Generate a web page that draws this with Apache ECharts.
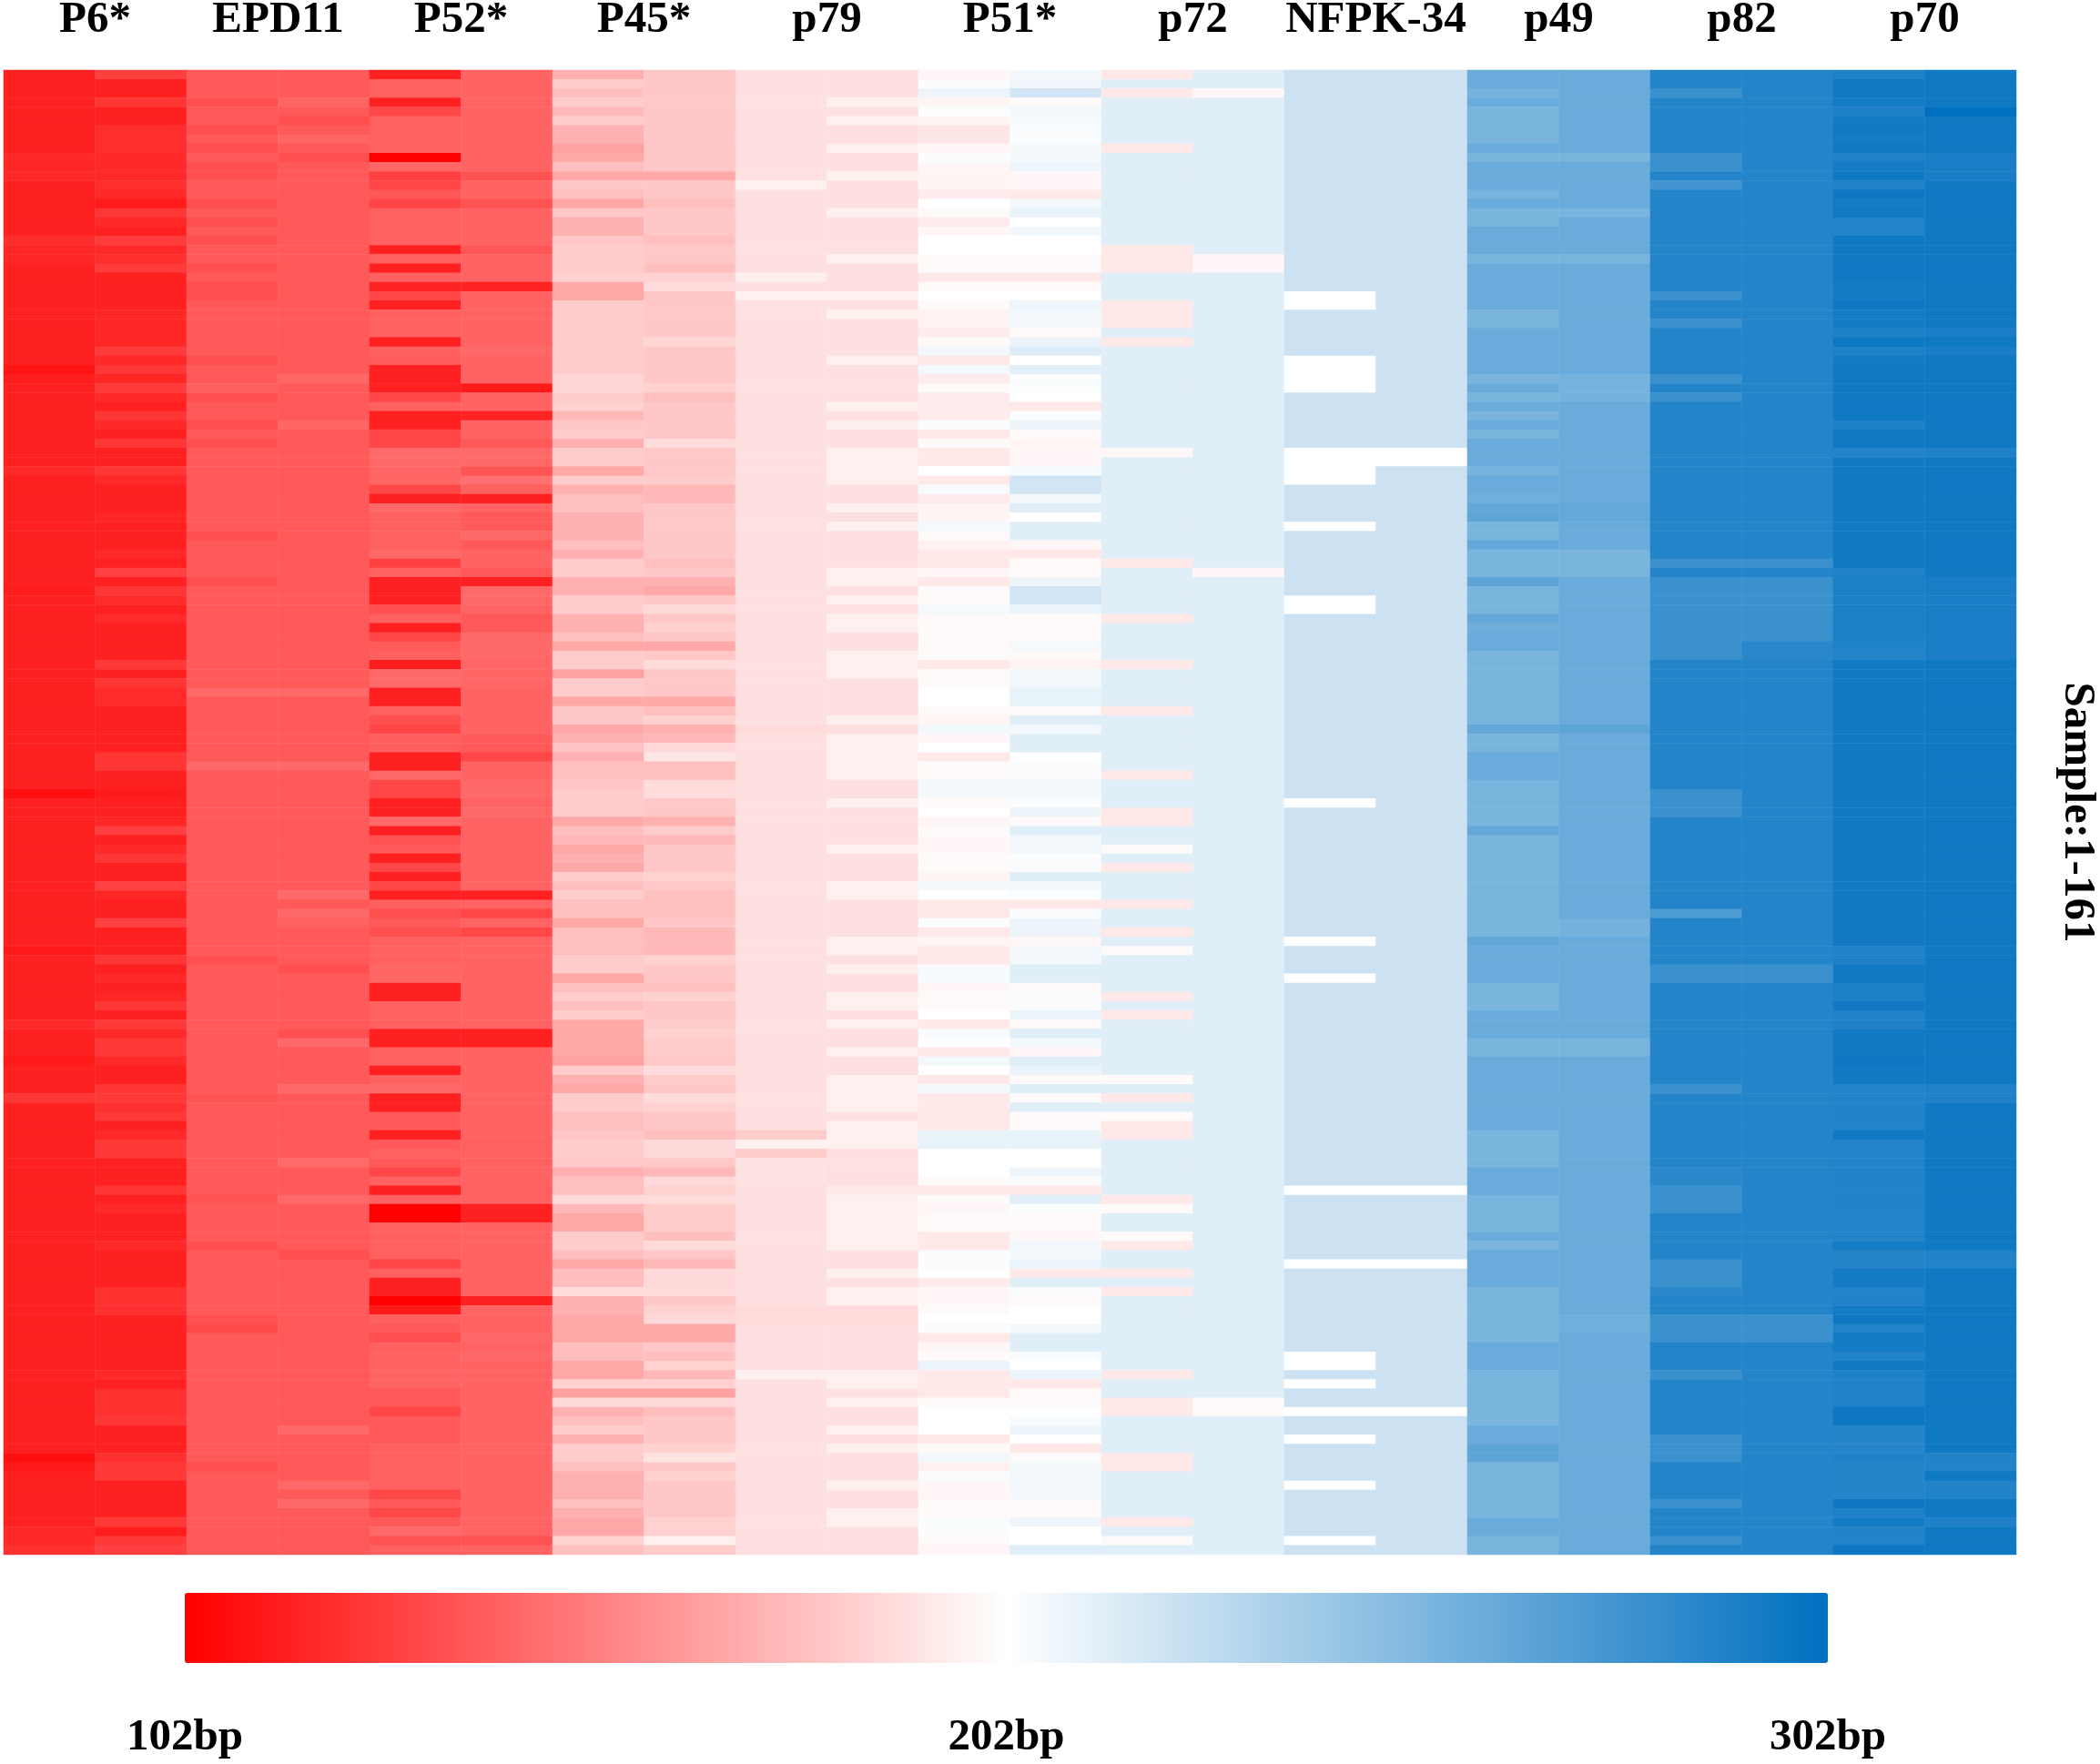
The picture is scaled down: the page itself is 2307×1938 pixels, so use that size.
<!DOCTYPE html>
<html>
<head>
<meta charset="utf-8">
<script src="https://cdn.jsdelivr.net/npm/echarts@6/dist/echarts.min.js"></script>
<style>
  html, body { margin: 0; padding: 0; background: #fff; }
  #main { width: 2307px; height: 1938px; }
</style>
</head>
<body>
<div id="main"></div>
<script>
// marker names, each marker has two alleles (two columns)
var markers = ['P6*', 'EPD11', 'P52*', 'P45*', 'p79', 'P51*', 'p72', 'NFPK-34', 'p49', 'p82', 'p70'];
var scaleLabels = ['102bp', '202bp', '302bp'];

// fragment sizes (bp) per sample 1-161
var p6a = [
 115,115,115,115,115,115,115,115,115,118,117,118,115,115,115,115,115,115,120,117,
 117,115,115,115,115,115,115,115,115,115,115,115,110,113,115,115,115,115,115,115,
 115,115,115,118,115,115,115,115,115,115,115,115,115,115,115,115,113,115,115,115,
 115,115,115,115,115,115,115,115,115,115,115,115,115,115,115,115,115,115,108,115,
 115,115,115,115,115,115,115,115,115,115,115,115,115,115,115,112,115,115,115,115,
 115,115,115,118,115,115,115,112,115,115,115,123,115,115,115,115,115,115,115,115,
 115,115,115,115,115,115,115,115,115,115,115,115,115,115,115,115,115,115,115,115,
 115,115,115,115,115,115,115,115,115,115,108,112,115,115,115,115,115,115,118,118,
 121];
var p6b = [
 127,115,115,123,115,115,120,120,120,118,118,118,120,118,112,123,118,115,125,118,
 120,125,115,115,115,115,117,117,117,117,125,118,123,117,125,118,115,123,118,115,
 123,115,115,123,118,115,115,115,117,115,115,115,118,115,127,115,123,119,115,119,
 115,115,115,115,124,115,123,119,119,115,115,115,115,115,123,123,115,115,113,115,
 115,117,127,115,118,123,115,115,127,117,115,115,127,115,115,115,123,115,118,115,
 117,123,115,124,118,124,124,118,115,115,123,124,121,124,115,118,124,124,115,115,
 115,123,115,118,115,115,115,118,115,115,115,115,121,121,121,115,115,115,115,115,
 115,118,115,121,121,121,123,115,115,115,121,124,124,115,115,115,115,124,113,124,
 127];
var epd11a = [
 137,137,137,133,137,137,133,137,133,137,133,133,137,137,133,137,133,137,133,137,
 137,133,137,133,133,137,137,137,137,137,137,133,137,137,140,133,137,137,133,137,
 133,137,137,137,137,137,137,137,137,137,133,137,137,137,137,133,137,137,137,137,
 137,137,137,137,137,137,137,143,137,137,137,137,137,137,137,143,137,137,137,137,
 137,137,137,137,137,137,137,137,137,137,137,137,137,137,137,137,133,137,137,137,
 137,137,137,137,137,137,137,137,137,137,137,134,137,137,137,137,137,137,137,137,
 137,137,135,137,137,137,137,133,137,137,137,137,137,137,137,133,131,137,137,137,
 137,137,137,137,137,137,137,137,137,137,137,133,137,137,137,137,137,137,137,137,
 137];
var epd11b = [
 137,137,137,141,137,133,137,142,137,133,137,137,137,137,137,137,137,137,137,137,
 137,137,137,137,137,137,137,137,137,137,137,137,137,142,137,137,137,137,142,137,
 137,137,137,137,137,137,137,137,137,137,137,137,137,137,137,137,137,137,137,137,
 137,137,137,137,137,137,137,143,137,137,137,137,137,137,137,143,137,137,137,137,
 137,137,137,137,137,137,137,137,137,143,137,143,140,137,137,137,137,133,137,137,
 137,137,137,137,133,143,137,137,137,137,143,137,137,137,137,137,137,137,143,137,
 137,137,143,137,137,137,137,137,133,137,137,137,137,137,137,137,137,137,137,137,
 137,137,137,137,137,137,137,143,137,137,137,137,137,143,137,143,137,137,137,137,
 137];
var p52a = [
 115,140,140,115,130,140,140,140,140,102,142,127,130,136,129,140,140,140,140,115,
 140,115,140,116,130,115,140,140,140,115,140,138,115,115,115,130,140,115,115,130,
 130,143,143,142,142,130,115,143,140,140,140,140,143,127,140,115,115,115,133,140,
 115,130,137,140,113,143,143,115,115,140,133,130,139,139,115,115,143,130,130,115,
 115,143,115,134,137,115,130,115,130,115,140,133,137,133,140,140,140,142,142,115,
 115,140,140,140,115,115,140,140,115,140,143,115,115,137,137,115,137,140,137,130,
 140,115,140,102,102,140,140,140,140,130,140,115,115,102,112,140,137,133,140,141,
 141,141,141,137,137,130,137,137,137,140,140,140,140,140,130,137,130,137,143,134,
 140];
var p52b = [
 141,141,141,141,141,141,141,141,141,141,141,134,141,141,134,141,141,141,141,136,
 141,141,141,116,141,141,141,141,141,141,143,141,141,141,112,141,141,116,141,141,
 137,143,143,135,146,140,115,141,137,137,143,137,141,141,137,115,143,143,141,137,
 137,143,143,143,142,142,142,141,141,141,141,141,137,137,130,141,141,143,143,141,
 143,141,141,141,141,141,141,141,141,115,141,130,141,130,141,141,141,141,141,141,
 141,141,141,141,115,115,141,141,141,141,141,141,141,141,141,141,140,140,140,141,
 141,140,141,115,115,141,141,141,141,141,141,141,141,115,141,141,141,143,141,143,
 141,141,141,141,141,141,141,141,141,141,141,141,141,141,141,141,141,141,141,134,
 141];
var p45a = [
 171,182,177,182,174,182,171,171,165,168,177,168,180,177,168,180,171,171,180,182,
 182,182,184,168,168,182,182,182,182,182,182,182,182,186,186,182,184,174,180,182,
 171,182,182,168,182,171,177,177,171,171,171,177,171,182,182,171,171,182,182,171,
 171,177,168,182,182,165,182,182,168,180,180,168,171,178,171,177,177,180,182,182,
 182,168,177,174,168,171,168,182,177,182,177,177,168,177,177,177,182,182,168,177,
 182,177,182,168,168,168,168,165,182,171,168,182,182,177,177,180,182,182,180,171,
 177,177,188,174,168,168,182,182,177,168,176,176,188,171,171,168,168,168,176,176,
 168,168,184,165,187,171,177,182,171,182,182,177,171,171,171,177,171,168,168,184,
 177];
var p45b = [
 180,180,180,180,180,180,180,180,180,180,180,168,180,180,177,180,180,180,177,180,
 180,177,184,188,180,180,180,180,180,186,180,180,180,180,184,177,180,180,180,180,
 188,180,180,180,182,174,174,180,180,180,180,180,180,177,180,171,168,180,187,180,
 184,180,168,180,188,180,180,180,168,177,184,171,174,187,192,177,177,188,188,180,
 180,171,182,174,180,180,180,184,180,177,177,177,180,174,174,174,184,180,180,177,
 184,180,180,182,184,182,182,180,188,182,180,188,184,180,180,177,187,187,180,174,
 187,184,188,182,182,182,177,188,180,174,187,187,188,180,184,187,168,168,180,177,
 184,174,184,165,187,177,180,180,180,184,191,180,184,180,180,180,180,184,184,196,
 182];
var p79a = [
 190,190,190,190,190,190,190,190,190,190,190,190,196,190,190,190,190,190,190,190,
 190,190,196,190,196,190,190,190,190,190,190,190,190,190,190,190,190,190,190,190,
 190,190,190,190,190,190,190,190,190,190,190,190,190,190,190,190,190,190,190,190,
 190,190,190,190,190,190,190,190,190,190,190,188,190,190,190,190,190,190,190,190,
 190,190,190,190,190,190,190,190,190,190,190,190,190,190,190,190,190,190,190,190,
 190,190,190,190,190,190,190,190,190,190,190,190,190,190,190,182,196,182,191,191,
 191,190,190,190,190,190,190,190,190,190,190,190,190,190,188,188,190,190,190,190,
 190,196,190,190,190,190,190,190,190,190,190,190,190,190,190,190,190,190,190,190,
 190];
var p79b = [
 190,190,190,196,190,196,190,190,196,190,190,196,190,190,190,196,190,190,190,190,
 196,190,190,190,196,190,196,190,190,190,190,196,190,190,190,190,196,190,196,190,
 190,196,196,196,196,190,190,196,190,196,190,190,190,190,196,196,190,196,190,196,
 196,190,190,196,196,196,190,190,190,190,196,189,196,196,196,196,196,190,190,196,
 190,190,190,190,196,190,190,190,196,196,190,190,190,190,196,196,190,196,190,190,
 196,196,190,196,190,190,196,190,190,196,196,196,196,190,196,196,196,190,190,190,
 190,193,196,196,196,196,196,196,190,190,196,190,196,196,188,188,190,190,190,190,
 190,196,196,190,196,190,190,196,190,196,190,190,190,196,190,190,196,196,190,190,
 190];
var p51a = [
 199,204,209,198,203,198,192,192,199,204,199,198,198,194,202,200,194,199,202,202,
 200,200,193,200,202,200,197,197,194,200,207,193,207,194,200,194,194,194,204,193,
 200,193,193,202,193,205,194,198,198,206,200,197,193,193,199,193,200,200,206,200,
 200,200,200,200,193,200,200,202,202,200,198,207,199,202,193,200,200,207,206,200,
 202,199,200,199,199,200,200,198,207,202,193,193,204,193,198,193,193,205,205,199,
 200,200,202,193,205,202,193,207,202,193,206,193,193,193,193,211,211,202,202,202,
 200,193,200,199,200,200,193,193,204,204,202,194,199,199,200,202,204,193,199,200,
 210,193,193,193,200,202,202,202,193,200,207,196,204,199,199,200,200,204,204,200,
 199];
var p51b = [
 207,208,220,200,207,205,204,204,206,206,209,199,199,193,207,211,202,207,202,202,
 200,200,193,200,202,209,207,207,200,210,215,202,213,204,204,202,193,204,209,200,
 198,199,199,205,220,220,207,214,202,214,214,199,193,200,200,209,220,220,210,200,
 200,200,206,200,197,207,207,211,211,200,214,207,214,214,202,204,204,207,207,204,
 209,200,214,207,207,204,204,214,207,204,193,204,209,209,199,207,207,214,214,200,
 204,204,210,200,214,207,199,214,210,200,214,200,214,200,200,211,211,202,202,209,
 204,193,214,204,200,200,199,207,207,210,193,214,204,200,202,202,207,214,214,205,
 202,210,193,200,200,202,205,209,202,193,200,207,207,207,207,200,200,209,202,202,
 214];
var p72a = [
 193,214,193,214,214,214,214,214,193,214,214,214,214,214,214,214,214,214,214,193,
 193,193,214,214,214,193,193,193,214,193,214,214,214,214,214,214,214,214,214,214,
 214,199,214,214,214,214,214,214,214,214,214,214,214,193,214,214,214,214,214,193,
 214,214,214,214,193,214,214,214,214,193,214,214,214,214,214,214,193,214,214,214,
 193,193,214,214,200,214,193,214,214,214,193,214,214,193,214,200,214,214,214,214,
 193,214,193,214,214,214,214,214,214,200,214,193,214,200,193,193,214,214,214,214,
 214,214,193,200,214,214,200,193,214,214,193,214,193,214,214,214,214,214,214,214,
 214,193,214,214,193,193,214,214,214,214,193,193,214,214,214,214,214,193,214,200,
 214];
var p72b = [
 214,214,199,214,214,214,214,214,214,214,214,214,214,214,214,214,214,214,214,214,
 199,199,214,214,214,214,214,214,214,214,214,214,214,214,214,214,214,214,214,214,
 214,214,214,214,214,214,214,214,214,214,214,214,214,214,199,214,214,214,214,214,
 214,214,214,214,214,214,214,214,214,214,214,214,214,214,214,214,214,214,214,214,
 214,214,214,214,214,214,214,214,214,214,214,214,214,214,214,214,214,214,214,214,
 214,214,214,214,214,214,214,214,214,214,214,214,214,214,214,214,214,214,214,214,
 214,214,214,214,214,214,214,214,214,214,214,214,214,214,214,214,214,214,214,214,
 214,214,214,214,200,200,214,214,214,214,214,214,214,214,214,214,214,214,214,214,
 214];
var nfpk34a = [
 222,222,222,222,222,222,222,222,222,222,222,222,222,222,222,222,222,222,222,222,
 222,222,222,222,202,202,222,222,222,222,222,202,202,202,202,222,222,222,222,222,
 222,202,202,202,202,222,222,222,222,202,222,222,222,222,222,222,222,202,202,222,
 222,222,222,222,222,222,222,222,222,222,222,222,222,222,222,222,222,222,222,202,
 222,222,222,222,222,222,222,222,222,222,222,222,222,222,202,222,222,222,202,222,
 222,222,222,222,222,222,222,222,222,222,222,222,222,222,222,222,222,222,222,222,
 222,202,222,222,222,222,222,222,222,202,222,222,222,222,222,222,222,222,222,202,
 202,222,202,222,222,202,222,222,202,222,222,222,222,202,222,222,222,222,222,202,
 222];
var nfpk34b = [
 222,222,222,222,222,222,222,222,222,222,222,222,222,222,222,222,222,222,222,222,
 222,222,222,222,222,222,222,222,222,222,222,222,222,222,222,222,222,222,222,222,
 222,202,202,222,222,222,222,222,222,222,222,222,222,222,222,222,222,222,222,222,
 222,222,222,222,222,222,222,222,222,222,222,222,222,222,222,222,222,222,222,222,
 222,222,222,222,222,222,222,222,222,222,222,222,222,222,222,222,222,222,222,222,
 222,222,222,222,222,222,222,222,222,222,222,222,222,222,222,222,222,222,222,222,
 222,202,222,222,222,222,222,222,222,202,222,222,222,222,222,222,222,222,222,222,
 222,222,222,222,222,202,222,222,222,222,222,222,222,222,222,222,222,222,222,222,
 222];
var p49a = [
 261,261,255,261,254,254,254,254,261,254,261,261,261,254,261,254,254,261,261,261,
 254,261,261,261,261,261,254,254,261,261,261,261,261,254,261,254,261,254,261,254,
 261,261,261,255,261,261,258,263,265,254,254,263,254,254,254,265,254,254,254,263,
 258,261,261,254,254,254,254,254,254,254,254,263,254,254,261,261,261,254,254,254,
 254,254,263,254,254,254,254,254,254,254,254,254,254,254,263,261,261,261,261,254,
 254,254,261,261,261,254,254,261,261,261,261,261,261,261,261,254,254,254,254,261,
 261,261,254,254,254,254,261,254,261,261,261,261,254,254,254,254,254,254,261,261,
 261,254,254,254,254,254,254,261,261,265,265,254,254,254,254,254,254,261,261,254,
 254];
var p49b = [
 261,261,261,261,261,261,261,261,261,254,261,261,261,261,261,254,261,261,261,261,
 254,261,261,261,261,261,261,261,261,261,261,261,261,256,256,256,261,261,261,261,
 261,261,261,261,261,261,261,263,263,261,261,261,254,254,254,261,261,261,261,261,
 261,261,261,261,261,261,261,261,261,261,261,265,261,261,261,261,261,261,261,261,
 261,261,261,261,261,261,261,261,261,261,261,261,256,256,261,261,261,261,261,261,
 261,261,261,261,261,254,254,261,261,261,261,261,261,261,261,261,261,261,261,261,
 261,261,261,261,261,261,261,261,261,261,261,261,261,261,261,258,258,261,261,261,
 261,261,261,261,261,261,261,261,261,261,261,261,261,261,261,261,261,261,261,261,
 261];
var p82a = [
 288,288,279,288,288,288,288,288,288,279,279,288,276,288,288,288,288,288,288,288,
 288,288,288,288,279,288,288,279,288,288,288,288,288,279,288,279,288,288,288,288,
 288,288,288,288,288,288,288,288,288,288,288,288,288,279,288,279,279,279,279,279,
 279,279,279,279,288,288,288,288,288,288,288,288,288,288,288,288,288,288,279,279,
 279,288,288,288,288,288,288,288,288,288,288,272,288,288,288,288,288,279,279,288,
 288,288,288,288,288,288,288,288,288,288,279,288,288,288,288,288,288,288,288,285,
 285,279,279,279,288,288,288,288,288,279,279,279,285,288,288,279,279,279,288,288,
 288,279,288,288,288,288,288,288,279,279,279,288,288,288,288,279,288,288,288,279,
 288];
var p82b = [
 288,288,288,288,288,288,288,288,288,288,288,288,288,288,288,288,288,288,288,288,
 288,288,288,288,288,288,288,288,288,288,288,288,288,288,288,288,288,288,288,288,
 288,288,288,288,288,288,288,288,288,288,288,288,288,279,288,279,279,279,279,279,
 279,279,286,286,288,288,288,288,288,288,288,288,288,288,288,288,288,288,288,288,
 288,288,288,288,288,288,288,288,288,288,288,288,288,288,288,288,288,279,279,288,
 288,288,288,288,288,288,288,288,288,288,288,288,288,288,288,288,288,288,288,288,
 288,288,288,288,288,288,288,288,288,288,288,288,288,288,288,279,279,279,288,288,
 288,288,288,288,288,288,288,288,288,288,288,288,288,288,288,288,288,288,288,288,
 288];
var p70a = [
 290,296,296,294,290,294,296,294,296,290,294,296,290,297,294,296,289,289,296,296,
 296,296,296,294,294,297,294,294,290,297,290,294,296,296,296,296,296,296,290,296,
 296,288,295,295,295,295,295,295,295,295,295,295,295,295,290,291,291,291,291,291,
 291,291,289,289,295,295,295,295,295,295,295,295,295,295,295,295,295,295,295,295,
 295,295,295,295,295,295,295,295,295,295,295,295,295,295,295,290,290,295,295,291,
 291,295,290,290,295,295,295,297,295,295,289,289,289,289,289,295,289,289,289,289,
 289,289,289,289,289,289,289,294,287,287,294,294,289,290,294,297,289,294,294,289,
 296,290,290,290,290,297,297,287,287,287,290,287,287,287,287,297,290,294,289,289,
 297];
var p70b = [
 296,296,296,296,302,296,296,296,296,292,292,292,296,296,296,296,296,296,296,296,
 296,296,296,296,296,296,296,296,292,296,292,296,296,296,296,296,296,296,296,296,
 296,290,296,296,296,296,296,296,296,296,296,296,296,296,296,292,292,292,292,292,
 292,292,292,292,296,296,296,296,296,296,296,296,296,296,296,296,296,296,296,296,
 296,296,296,296,296,296,296,296,296,296,296,296,296,296,296,296,296,296,296,296,
 296,296,296,296,296,296,296,296,296,296,290,290,296,296,296,296,296,296,296,296,
 296,296,296,296,296,296,296,296,289,289,296,296,296,296,296,296,296,296,296,296,
 296,296,296,296,296,296,296,296,296,296,289,289,296,289,289,296,296,290,296,296,
 296];

var columns = [p6a, p6b, epd11a, epd11b, p52a, p52b, p45a, p45b, p79a, p79b, p51a, p51b,
               p72a, p72b, nfpk34a, nfpk34b, p49a, p49b, p82a, p82b, p70a, p70b];

var alleles = [];
markers.forEach(function (m) { alleles.push(m + ' a'); alleles.push(m + ' b'); });

var samples = [];
for (var i = 1; i <= 161; i++) samples.push(String(i));

var cells = [];
columns.forEach(function (col, c) {
  if (col.length !== 161) throw new Error('column ' + c + ' has ' + col.length + ' values');
  col.forEach(function (v, r) { cells.push([c, r, v]); });
});

var font = 'Liberation Serif, Times New Roman, serif';
var labelStyle = { fontFamily: font, fontWeight: 'bold', fontSize: 49, color: '#000' };

var myChart = echarts.init(document.getElementById('main'));

myChart.setOption({
  backgroundColor: '#fff',
  animation: false,
  grid: [
    { left: 4, top: 77, width: 2211, height: 1631, containLabel: false, outerBoundsMode: 'none' },
    { left: 203, top: 1826, width: 1805, height: 1, containLabel: false, outerBoundsMode: 'none' }
  ],
  xAxis: [
    { type: 'category', gridIndex: 0, data: alleles, show: false },
    { type: 'category', gridIndex: 0, data: markers, position: 'top',
      axisLine: { show: false }, axisTick: { show: false }, splitLine: { show: false },
      axisLabel: Object.assign({ margin: 30, interval: 0 }, labelStyle) },
    { type: 'category', gridIndex: 1, data: scaleLabels, boundaryGap: false,
      axisLine: { show: false }, axisTick: { show: false }, splitLine: { show: false },
      axisLabel: Object.assign({ margin: 58, interval: 0 }, labelStyle) }
  ],
  yAxis: [
    { type: 'category', gridIndex: 0, data: samples, inverse: true, position: 'right',
      axisLine: { show: false }, axisTick: { show: false }, axisLabel: { show: false },
      splitLine: { show: false },
      name: 'Sample:1-161', nameLocation: 'middle', nameRotate: -90, nameGap: 42,
      nameTextStyle: labelStyle },
    { type: 'category', gridIndex: 1, data: [''], show: false }
  ],
  visualMap: {
    type: 'continuous',
    min: 102,
    max: 302,
    orient: 'horizontal',
    left: 203,
    top: 1750,
    itemWidth: 77,
    itemHeight: 1805,
    padding: 0,
    calculable: false,
    seriesIndex: 0,
    inRange: { color: ['#FF0000', '#FFFFFF', '#0070C0'] }
  },
  series: [{
    type: 'heatmap',
    xAxisIndex: 0,
    yAxisIndex: 0,
    data: cells,
    progressive: 0,
    emphasis: { disabled: true },
    itemStyle: { borderWidth: 0 }
  }]
});
</script>
</body>
</html>
